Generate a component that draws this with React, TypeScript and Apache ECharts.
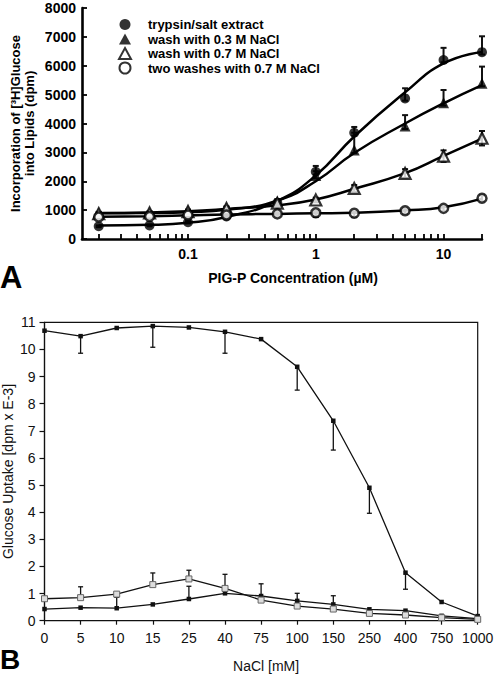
import React, { useEffect, useRef } from "react";
import * as echarts from "echarts";

// ---------- Panel A data ----------
const concA = [0.02, 0.05, 0.1, 0.2, 0.5, 1, 2, 5, 10, 20];
const namesA = [
  "trypsin/salt extract",
  "wash with 0.3 M NaCl",
  "wash with 0.7 M NaCl",
  "two washes with 0.7 M NaCl",
];
// measured points
const trypsinPts = [440, 470, 580, 780, 1250, 2330, 3680, 4870, 6200, 6470];
const wash03Pts = [900, 920, 980, 1080, 1300, 2200, 3080, 3910, 4720, 5390];
const wash07Pts = [880, 900, 950, 1060, 1240, 1350, 1750, 2270, 2870, 3490];
const twoWashPts = [760, 780, 830, 830, 870, 910, 890, 980, 1060, 1410];
// fitted curves (at the same concentrations)
const trypsinFit = [470, 490, 560, 760, 1320, 2200, 3550, 5080, 6080, 6480];
const wash03Fit = [890, 900, 930, 1010, 1330, 2000, 2980, 4000, 4700, 5330];
const wash07Fit = [900, 920, 960, 1040, 1170, 1370, 1740, 2280, 2880, 3480];
const twoWashFit = [770, 790, 820, 850, 870, 890, 910, 990, 1100, 1400];
// error bars (up / down)
const trypsinErrUp = [30, 30, 40, 50, 80, 200, 200, 350, 420, 550];
const trypsinErrDn = [30, 30, 40, 50, 80, 100, 100, 80, 80, 80];
const wash03ErrUp = [40, 40, 40, 50, 80, 150, 600, 380, 440, 580];
const wash03ErrDn = [40, 40, 40, 50, 80, 100, 100, 100, 100, 100];
const wash07ErrUp = [40, 40, 40, 50, 60, 80, 120, 150, 200, 250];
const wash07ErrDn = [40, 40, 40, 50, 60, 80, 120, 150, 200, 250];
const twoWashErrUp = [40, 40, 40, 50, 60, 60, 60, 80, 80, 100];
const twoWashErrDn = [40, 40, 40, 50, 80, 150, 120, 100, 80, 100];
const xTicksA = [
  0.02, 0.03, 0.04, 0.05, 0.06, 0.07, 0.08, 0.09, 0.1,
  0.2, 0.3, 0.4, 0.5, 0.6, 0.7, 0.8, 0.9, 1,
  2, 3, 4, 5, 6, 7, 8, 9, 10, 20,
];
const xLabelsA = [0.1, 1, 10];

// ---------- Panel B data ----------
const naclB = ["0", "5", "10", "15", "25", "40", "75", "100", "150", "250", "400", "750", "1000"];
const topB = [10.69, 10.49, 10.79, 10.86, 10.81, 10.65, 10.38, 9.36, 7.37, 4.9, 1.77, 0.69, 0.17];
const topErrDnB = [0, 0.63, 0, 0.78, 0, 0.79, 0, 0.86, 1.08, 0.94, 0.61, 0, 0];
const lowB = [0.43, 0.48, 0.46, 0.6, 0.8, 1.01, 0.91, 0.73, 0.6, 0.42, 0.37, 0.18, 0.08];
const lowErrUpB = [0, 0, 0.4, 0, 0.47, 0, 0.45, 0.28, 0.32, 0, 0, 0, 0];
const openB = [0.81, 0.85, 0.98, 1.33, 1.54, 1.19, 0.76, 0.54, 0.43, 0.27, 0.21, 0.11, 0.05];
const openErrUpB = [0, 0.4, 0, 0.43, 0.32, 0.52, 0, 0, 0, 0, 0, 0, 0];

const FONT = "'Liberation Sans', Arial, Helvetica, sans-serif";

function errRender(capHalf: number, lw: number) {
  return (_params: any, api: any) => {
    const x = api.value(0);
    const y = api.value(1);
    const dn = api.value(2);
    const up = api.value(3);
    const top = api.coord([x, y + up]);
    const bot = api.coord([x, y - dn]);
    const style = { stroke: "#111", lineWidth: lw };
    const children: any[] = [];
    if (up > 0 || dn > 0) {
      children.push({ type: "line", shape: { x1: top[0], y1: top[1], x2: bot[0], y2: bot[1] }, style });
    }
    if (up > 0) {
      children.push({ type: "line", shape: { x1: top[0] - capHalf, y1: top[1], x2: top[0] + capHalf, y2: top[1] }, style });
    }
    if (dn > 0) {
      children.push({ type: "line", shape: { x1: bot[0] - capHalf, y1: bot[1], x2: bot[0] + capHalf, y2: bot[1] }, style });
    }
    return { type: "group", children };
  };
}

const pair = (xs: number[], ys: number[]) => xs.map((x, i) => [x, ys[i]]);
const errData = (xs: any[], ys: number[], dn: number[], up: number[]) =>
  xs.map((x, i) => [x, ys[i], dn[i], up[i]]);

export default function App() {
  const ref = useRef<HTMLDivElement>(null);
  useEffect(() => {
    if (!ref.current) return;
    const chart = echarts.init(ref.current, undefined, { renderer: "svg" });

    const ptsA = [trypsinPts, wash03Pts, wash07Pts, twoWashPts];
    const fitA = [trypsinFit, wash03Fit, wash07Fit, twoWashFit];
    const upA = [trypsinErrUp, wash03ErrUp, wash07ErrUp, twoWashErrUp];
    const dnA = [trypsinErrDn, wash03ErrDn, wash07ErrDn, twoWashErrDn];
    const symA = ["circle", "triangle", "triangle", "circle"];
    const sizeA = [10, 11, 11, 9];
    const styleA = [
      { color: "#000" },
      { color: "#000" },
      { color: "#fff", borderColor: "#000", borderWidth: 2.2 },
      { color: "#fff", borderColor: "#000", borderWidth: 2.5 },
    ];

    const seriesA: any[] = [];
    for (let i = 0; i < 4; i++) {
      seriesA.push({
        type: "custom",
        xAxisIndex: 0,
        yAxisIndex: 0,
        renderItem: errRender(3, 2),
        encode: { x: 0, y: 1 },
        data: errData(concA, ptsA[i], dnA[i], upA[i]),
        z: 1,
        silent: true,
      });
      seriesA.push({
        type: "line",
        name: "fit " + namesA[i],
        xAxisIndex: 0,
        yAxisIndex: 0,
        data: pair(concA, fitA[i]),
        smooth: 0.5,
        showSymbol: false,
        lineStyle: { color: "#000", width: 2.5 },
        itemStyle: { color: "#000" },
        z: 2,
      });
      seriesA.push({
        type: "scatter",
        name: namesA[i],
        xAxisIndex: 0,
        yAxisIndex: 0,
        data: pair(concA, ptsA[i]),
        symbol: symA[i],
        symbolSize: sizeA[i],
        symbolKeepAspect: true,
        itemStyle: styleA[i],
        z: 3,
      });
    }

    const lineB = (data: number[], itemStyle: any, size: number) => ({
      type: "line",
      xAxisIndex: 1,
      yAxisIndex: 1,
      data,
      symbol: "rect",
      symbolSize: size,
      showAllSymbol: true,
      lineStyle: { color: "#111", width: 1.3 },
      itemStyle,
      z: 3,
    });
    const errB = (ys: number[], dn: number[], up: number[]) => ({
      type: "custom",
      xAxisIndex: 1,
      yAxisIndex: 1,
      renderItem: errRender(2.5, 1.3),
      encode: { x: 0, y: 1 },
      data: errData(naclB.map((_, i) => i), ys, dn, up),
      z: 2,
      silent: true,
    });

    const zeros = naclB.map(() => 0);

    const option: any = {
      animation: false,
      backgroundColor: "#fff",
      textStyle: { fontFamily: FONT },
      legend: {
        data: namesA,
        orient: "vertical",
        left: 113,
        top: 13,
        itemWidth: 12,
        itemHeight: 11,
        itemGap: 1.5,
        symbolKeepAspect: true,
        textStyle: {
          fontFamily: FONT,
          fontWeight: "bold",
          fontSize: 13,
          lineHeight: 13,
          color: "#000",
          padding: [0, 0, 0, 12],
        },
        selectedMode: false,
      },
      grid: [
        { left: 82, top: 8, width: 400, height: 231, outerBoundsMode: "none" },
        {
          left: 44.5,
          top: 322.3,
          width: 433.2,
          height: 298.4,
          show: true,
          borderColor: "#111",
          borderWidth: 1.2,
          backgroundColor: "transparent",
          outerBoundsMode: "none",
        },
      ],
      xAxis: [
        {
          type: "log",
          gridIndex: 0,
          logBase: 10,
          min: 0.0148,
          max: 20,
          axisLine: { lineStyle: { color: "#000", width: 2.6 } },
          axisTick: { inside: true, length: 5, customValues: xTicksA, lineStyle: { color: "#000", width: 1.8 } },
          axisLabel: {
            customValues: xLabelsA,
            formatter: (v: number) => String(v),
            fontFamily: FONT,
            fontWeight: "bold",
            fontSize: 14,
            color: "#000",
            margin: 8,
          },
          splitLine: { show: false },
          minorTick: { show: false },
          name: "PIG-P Concentration (µM)",
          nameLocation: "middle",
          nameGap: 32,
          nameTextStyle: {
            fontFamily: FONT,
            fontWeight: "bold",
            fontSize: 14,
            color: "#000",
            padding: [0, 0, 0, 22],
          },
        },
        {
          type: "category",
          gridIndex: 1,
          data: naclB,
          boundaryGap: false,
          axisLine: { lineStyle: { color: "#111", width: 1.2 } },
          axisTick: { length: 4, alignWithLabel: true, lineStyle: { color: "#111", width: 1.2 } },
          axisLabel: { interval: 0, fontFamily: FONT, fontSize: 14, color: "#111", margin: 10 },
          splitLine: { show: false },
          name: "NaCl [mM]",
          nameLocation: "middle",
          nameGap: 38,
          nameTextStyle: { fontFamily: FONT, fontSize: 14, color: "#111", padding: [0, 0, 0, 10] },
        },
      ],
      yAxis: [
        {
          type: "value",
          gridIndex: 0,
          min: 0,
          max: 8000,
          interval: 1000,
          axisLine: { show: true, lineStyle: { color: "#000", width: 2.6 } },
          axisTick: { show: true, inside: true, length: 5, lineStyle: { color: "#000", width: 1.8 } },
          axisLabel: {
            formatter: (v: number) => String(v),
            fontFamily: FONT,
            fontWeight: "bold",
            fontSize: 14,
            color: "#000",
            margin: 6,
          },
          splitLine: { show: false },
          name: "Incorporation of [³H]Glucose\ninto Lipids (dpm)",
          nameLocation: "middle",
          nameGap: 46,
          nameMoveOverlap: false,
          nameTextStyle: {
            fontFamily: FONT,
            fontWeight: "bold",
            fontSize: 13,
            color: "#000",
            lineHeight: 14,
          },
        },
        {
          type: "value",
          gridIndex: 1,
          min: 0,
          max: 11,
          interval: 1,
          axisLine: { show: true, lineStyle: { color: "#111", width: 1.2 } },
          axisTick: { show: true, length: 5, lineStyle: { color: "#111", width: 1.2 } },
          axisLabel: { fontFamily: FONT, fontSize: 14, color: "#111", margin: 9 },
          splitLine: { show: false },
          name: "Glucose Uptake [dpm x E-3]",
          nameLocation: "middle",
          nameGap: 30,
          nameMoveOverlap: false,
          nameTextStyle: { fontFamily: FONT, fontSize: 14, color: "#111" },
        },
      ],
      graphic: [
        {
          type: "text",
          left: 0,
          top: 262,
          style: { text: "A", font: `bold 31px ${FONT}`, fill: "#000" },
        },
        {
          type: "text",
          left: 0,
          top: 645,
          style: { text: "B", font: `bold 28px ${FONT}`, fill: "#000" },
        },
      ],
      series: [
        ...seriesA,
        errB(topB, topErrDnB, zeros),
        errB(lowB, zeros, lowErrUpB),
        errB(openB, zeros, openErrUpB),
        lineB(topB, { color: "#111" }, 4.5),
        lineB(lowB, { color: "#111" }, 4.5),
        lineB(openB, { color: "#ddd", borderColor: "#666", borderWidth: 1 }, 6),
      ],
    };
    chart.setOption(option);
    return () => chart.dispose();
  }, []);
  return (
    <div
      ref={ref}
      style={{ position: "absolute", left: 0, top: 0, width: 494, height: 674, background: "#fff" }}
    />
  );
}
